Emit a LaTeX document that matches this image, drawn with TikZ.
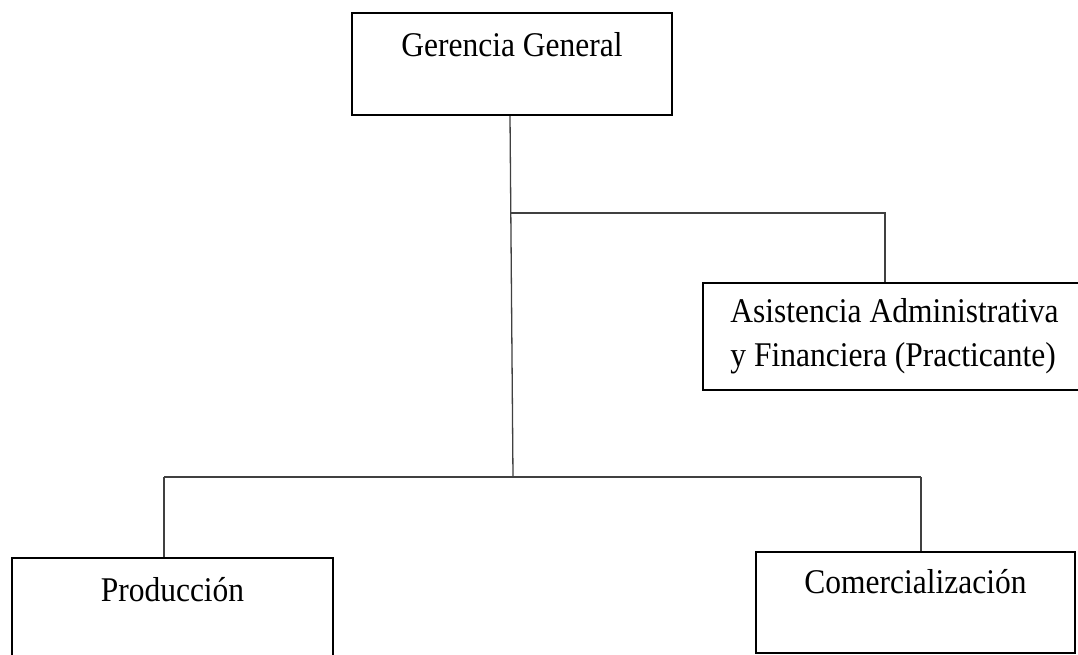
\documentclass[tikz,border=0pt]{standalone}
\usepackage{fontspec}
\usepackage{graphicx}
\setmainfont{Liberation Serif}
\newcommand{\vstretch}[1]{\scalebox{1}[1.1]{#1}}
\begin{document}
\begin{tikzpicture}[x=1pt,y=-1pt,
  box/.style={draw=black, line width=2pt, rectangle, inner sep=0pt,
    font=\fontsize{31.5}{44}\selectfont},
  conn/.style={draw=black!75, line width=1.3pt}]
\clip (0,0) rectangle (1078,654);
\fill[white] (0,0) rectangle (1078,654);
% boxes
\node[box, anchor=north west, minimum width=320pt, text height=43pt, text depth=59pt]
  (gg) at (351,12) {\vstretch{Gerencia General}};
\node[box, anchor=north west, minimum width=383pt, minimum height=107pt, align=left]
  (asis) at (702,282) {\vstretch{Asistencia Administrativa}\\\vstretch{y Financiera (Practicante)}};
\node[box, anchor=north west, minimum width=321pt, text height=43pt, text depth=60pt]
  (prod) at (11,557) {\vstretch{Producción}};
\node[box, anchor=north west, minimum width=319pt, text height=41pt, text depth=60pt]
  (com) at (755,551) {\vstretch{Comercialización}};
% junctions
\coordinate (jtop) at (510,213);
\coordinate (jbot) at (513,477);
\coordinate (jr) at (885,213);
\coordinate (jl) at (164,477);
\coordinate (jc) at (921,477);
% connectors
\draw[conn] ([xshift=-2pt]gg.south) -- (jbot);
\draw[conn] (jtop) -- (jr) -- (jr |- asis.north);
\draw[conn] (jl) -- (jc);
\draw[conn] (jl) -- (jl |- prod.north);
\draw[conn] (jc) -- (jc |- com.north);
\end{tikzpicture}
\end{document}
